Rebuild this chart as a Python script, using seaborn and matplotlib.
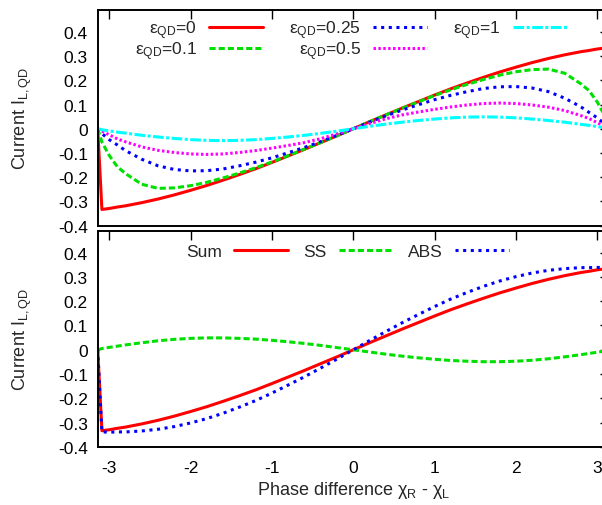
import numpy as np
import pandas as pd
import seaborn as sns
import matplotlib.pyplot as plt

phase = [-3.1416, -3.09, -3.0, -2.9, -2.8, -2.6, -2.4, -2.2, -2.0, -1.8, -1.6, -1.4,
         -1.2, -1.0, -0.8, -0.6, -0.4, -0.2, 0.0, 0.2, 0.4, 0.6, 0.8, 1.0, 1.2, 1.4,
         1.6, 1.8, 2.0, 2.2, 2.4, 2.6, 2.8, 2.9, 3.0, 3.09, 3.1416]

# top panel: current for several dot levels
eps_0 = [0, -.333, -.329, -.323, -.318, -.305, -.290, -.273, -.254, -.234, -.212, -.189,
         -.165, -.139, -.112, -.085, -.057, -.029, 0, .029, .057, .085, .112, .139, .165, .189,
         .212, .234, .254, .273, .290, .305, .318, .323, .329, .333, 0]
eps_01 = [0, -.055, -.11, -.157, -.185, -.229, -.246, -.244, -.235, -.221, -.203, -.183,
          -.161, -.137, -.111, -.084, -.057, -.029, 0, .029, .057, .084, .111, .137, .161, .183,
          .203, .221, .235, .244, .246, .229, .185, .157, .11, .055, 0]
eps_025 = [0, -.02, -.045, -.067, -.09, -.126, -.153, -.168, -.174, -.173, -.166, -.153,
           -.138, -.12, -.099, -.077, -.053, -.027, 0, .027, .053, .077, .099, .12, .138, .153,
           .166, .173, .174, .168, .153, .126, .09, .067, .045, .02, 0]
eps_05 = [0, -.01, -.025, -.042, -.054, -.075, -.089, -.098, -.104, -.106, -.104, -.098,
          -.09, -.08, -.069, -.057, -.041, -.021, 0, .021, .041, .057, .069, .08, .09, .098,
          .104, .106, .104, .098, .089, .075, .054, .042, .025, .01, 0]
eps_1 = [0, -.004, -.009, -.014, -.018, -.027, -.034, -.04, -.045, -.048, -.049, -.048,
         -.045, -.04, -.034, -.027, -.019, -.01, 0, .01, .019, .027, .034, .04, .045, .048,
         .049, .048, .045, .04, .034, .027, .018, .014, .009, .004, 0]

# bottom panel: total current and its two parts
cur_sum = eps_0
cur_ss = [0, .005, .01, .015, .02, .029, .037, .043, .047, .049, .049, .047,
          .044, .039, .033, .026, .018, .009, 0, -.009, -.018, -.026, -.033, -.039, -.044, -.047,
          -.049, -.049, -.047, -.043, -.037, -.029, -.02, -.015, -.01, -.005, 0]
cur_abs = [0, -.338, -.339, -.338, -.338, -.334, -.327, -.316, -.301, -.283, -.261, -.236,
           -.209, -.178, -.145, -.111, -.075, -.038, 0, .038, .075, .111, .145, .178, .209, .236,
           .261, .283, .301, .316, .327, .334, .338, .338, .339, .338, 0]

yticks = [-0.4, -0.3, -0.2, -0.1, 0, 0.1, 0.2, 0.3, 0.4]
ytick_labels = ['-0.4', '-0.3', '-0.2', '-0.1', '0', '0.1', '0.2', '0.3', '0.4']
xticks = [-3, -2, -1, 0, 1, 2, 3]
xtick_labels = ['-3', '-2', '-1', '0', '1', '2', '3']

sns.set_theme(style='white')
plt.rcParams['font.family'] = ['Liberation Sans', 'DejaVu Sans']
plt.rcParams['mathtext.fontset'] = 'custom'
plt.rcParams['mathtext.rm'] = 'Liberation Sans'
plt.rcParams['mathtext.it'] = 'Liberation Sans:italic'
plt.rcParams['axes.unicode_minus'] = False

fig = plt.figure(figsize=(6.02, 5.06), dpi=100)
ax1 = fig.add_axes([0.1623, 0.552, 0.849, 0.4263])
ax2 = fig.add_axes([0.1623, 0.1146, 0.849, 0.4275])

dash = (0, (2, 1))
dots = (0, (1, 1.5))
fine = (0, (0.8, 0.8))
dashdot = (0, (3.5, 0.8, 1, 0.8))

top = [(eps_0, r'ε$_{\mathrm{QD}}$=0', 'red', '-'),
       (eps_01, r'ε$_{\mathrm{QD}}$=0.1', '#00e000', dash),
       (eps_025, r'ε$_{\mathrm{QD}}$=0.25', 'blue', dots),
       (eps_05, r'ε$_{\mathrm{QD}}$=0.5', 'magenta', fine),
       (eps_1, r'ε$_{\mathrm{QD}}$=1', 'cyan', dashdot)]
for vals, lab, col, ls in top:
    sns.lineplot(x=phase, y=vals, ax=ax1, color=col, linestyle=ls, lw=2.2,
                 label=lab, sort=False)

bottom = [(cur_sum, 'Sum', 'red', '-'),
          (cur_ss, 'SS', '#00e000', dash),
          (cur_abs, 'ABS', 'blue', dots)]
for vals, lab, col, ls in bottom:
    sns.lineplot(x=phase, y=vals, ax=ax2, color=col, linestyle=ls, lw=2.2,
                 label=lab, sort=False)

for ax in (ax1, ax2):
    ax.set_xlim(-np.pi, np.pi)
    ax.set_ylim(-0.4, 0.49)
    ax.set_xticks(xticks)
    ax.set_xticklabels(xtick_labels)
    ax.set_yticks(yticks)
    ax.set_yticklabels(ytick_labels)
    ax.tick_params(direction='in', top=True, right=True, length=6.5, width=1,
                   labelsize=12.5, colors='black', pad=7)
    ax.tick_params(axis='x', pad=9)
    for s in ax.spines.values():
        s.set_color('black')
        s.set_linewidth(1.4)
    ax.set_ylabel(r'Current I$_{\mathrm{L,QD}}$', fontsize=13)
    ax.yaxis.set_label_coords(-0.125, 0.5)

ax1.tick_params(labelbottom=False)
ax1.set_xlabel('')
ax2.set_xlabel(r'Phase difference χ$_{\mathrm{R}}$ - χ$_{\mathrm{L}}$', fontsize=13, labelpad=3)

ax1.legend(ncol=3, markerfirst=False, frameon=False, fontsize=12.5, handlelength=3.1,
           handletextpad=0.7, columnspacing=1.5, labelspacing=-0.12,
           loc='upper left', bbox_to_anchor=(0.073, 0.96), borderaxespad=0, borderpad=0)
ax2.legend(ncol=3, markerfirst=False, frameon=False, fontsize=12.5, handlelength=3.1,
           handletextpad=0.7, columnspacing=0.9,
           loc='upper left', bbox_to_anchor=(0.173, 0.94), borderaxespad=0, borderpad=0)

fig.savefig('out.png', dpi=100)
